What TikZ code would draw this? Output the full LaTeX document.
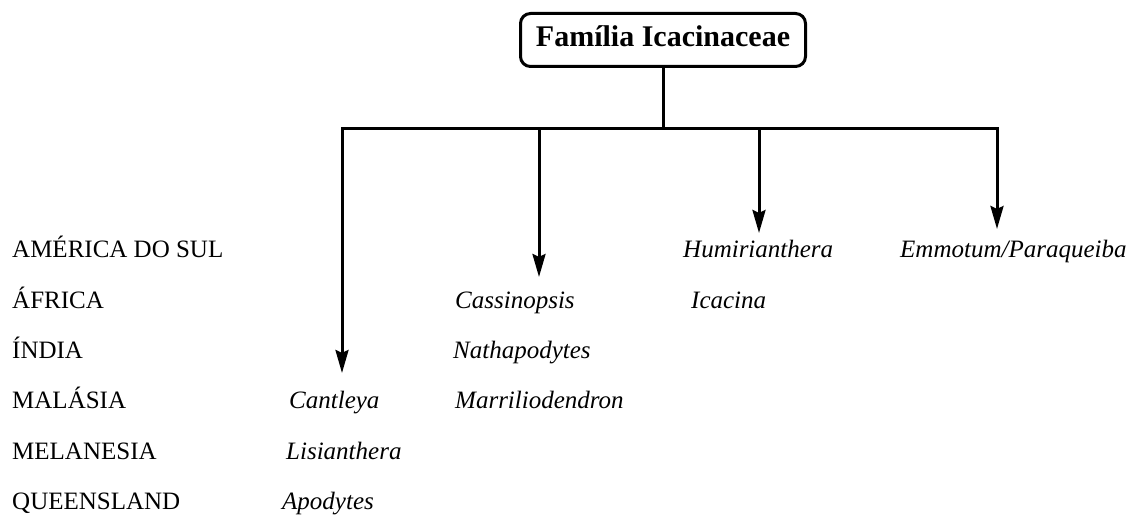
\documentclass[tikz,border=0pt]{standalone}
\usepackage{fontspec}
\setmainfont{Liberation Serif}
\usetikzlibrary{arrows.meta}
\begin{document}
\begin{tikzpicture}[x=1pt,y=-1pt,
  famstyle/.style={draw, line width=3pt, rounded corners=10pt, inner sep=0pt,
    minimum width=285pt, minimum height=53pt, text height=20pt, text depth=6pt,
    font=\fontsize{30}{36}\selectfont\bfseries},
  region/.style={anchor=base west, inner sep=0pt, font=\fontsize{25}{30}\selectfont},
  genus/.style={anchor=base west, inner sep=0pt, font=\fontsize{25}{30}\selectfont\itshape},
  link/.style={line width=3pt, line join=miter},
  tip/.style={-{Stealth[length=23pt,width=13pt,inset=3pt]}}
]
\useasboundingbox (0,0) rectangle (1141,516);

% root of the tree
\node[famstyle, anchor=base] (fam) at (663,47) {Família Icacinaceae};

% regions (rows)
\node[region] (r1) at (12,257) {AMÉRICA DO SUL};
\node[region] (r2) at (12,308) {ÁFRICA};
\node[region] (r3) at (12,358) {ÍNDIA};
\node[region] (r4) at (12,408) {MALÁSIA};
\node[region] (r5) at (12,459) {MELANESIA};
\node[region] (r6) at (12,509) {QUEENSLAND};

% genera
\node[genus] (g1) at (683,257) {Humirianthera};
\node[genus] (g2) at (900,257) {Emmotum/Paraqueiba};
\node[genus] (g3) at (455,308) {Cassinopsis};
\node[genus] (g4) at (691,308) {Icacina};
\node[genus] (g5) at (453,358) {Nathapodytes};
\node[genus] (g6) at (289,408) {Cantleya};
\node[genus] (g7) at (455,408) {Marriliodendron};
\node[genus] (g8) at (286,459) {Lisianthera};
\node[genus] (g9) at (282,509) {Apodytes};

% branching points on the horizontal bar
\coordinate (j)  at (663,129);
\coordinate (b1) at (342,129);
\coordinate (b2) at (539,129);
\coordinate (b3) at (759,129);
\coordinate (b4) at (997,129);
% arrow ends
\coordinate (t1) at (342,373);
\coordinate (t2) at (539,277);
\coordinate (t3) at (759,233);
\coordinate (t4) at (997,229);

\draw[link] (fam.south) -- (j);
\draw[link, {Stealth[length=23pt,width=13pt,inset=3pt]}-{Stealth[length=23pt,width=13pt,inset=3pt]}]
  (t1) -- (b1) -- (b4) -- (t4);
\draw[link, tip] (b2) -- (t2);
\draw[link, tip] (b3) -- (t3);
\end{tikzpicture}
\end{document}
